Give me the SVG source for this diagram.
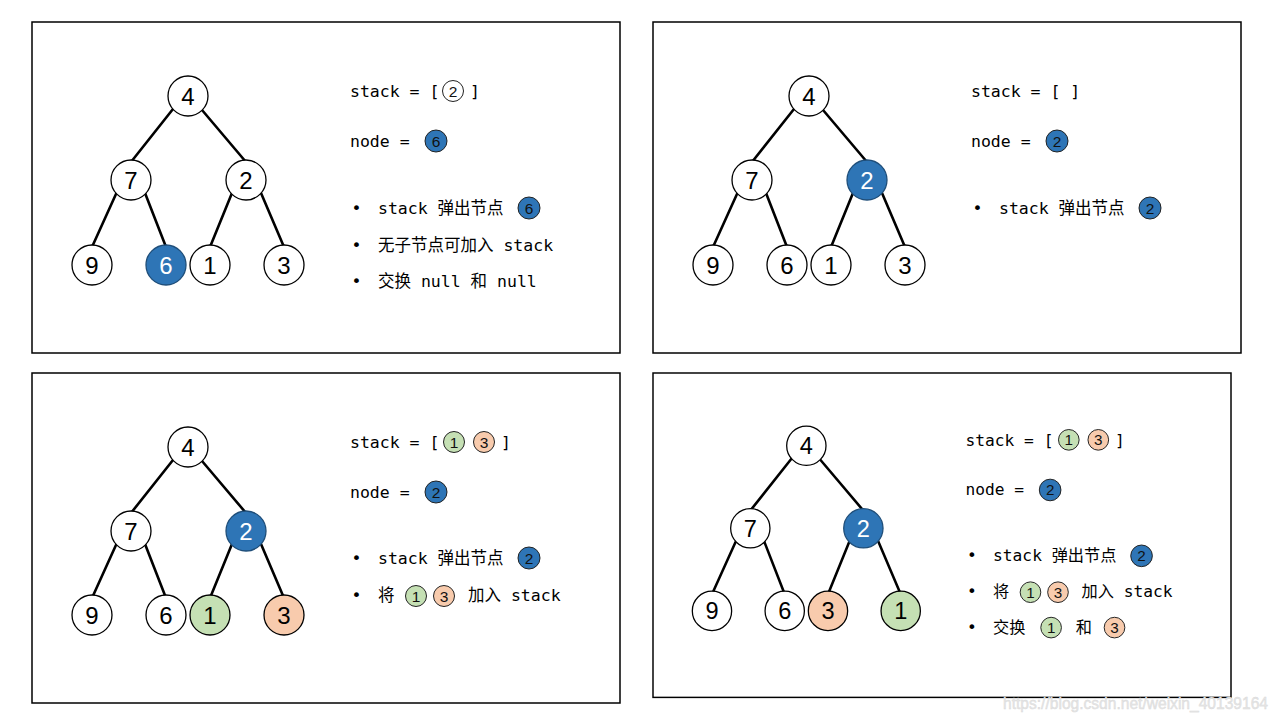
<svg xmlns="http://www.w3.org/2000/svg" width="1280" height="720" viewBox="0 0 1280 720">
<style>
.bg{fill:#ffffff}
.frame{fill:#ffffff;stroke:#000;stroke-width:1.5}
.edge{stroke:#000;stroke-width:2.6;stroke-linecap:round;fill:none}
.tn{stroke:#000;stroke-width:1.3}
.w{fill:#ffffff}
.b{fill:#2E75B6;stroke:#1F4E79}
.g{fill:#C5E0B4}
.o{fill:#F8CBAD}
.tt{font-family:"Liberation Sans","Noto Sans",sans-serif;font-size:24px;text-anchor:middle;fill:#000}
.tw{fill:#ffffff}
.sc{stroke:#222;stroke-width:1}
.sd{font-family:"Liberation Sans","Noto Sans",sans-serif;font-size:15.5px;text-anchor:middle;fill:#111}
.mono{font-family:"DejaVu Sans Mono","Noto Sans CJK SC",monospace;font-size:16.5px;fill:#000}
.bul{font-family:"DejaVu Sans Mono",monospace;font-size:16.5px;fill:#000;text-anchor:middle}
.wm{font-family:"Liberation Sans",Arial,sans-serif;font-size:16px;fill:#e6e6e6;stroke:#d8d8d8;stroke-width:0.4}
</style>
<rect class="bg" x="0" y="0" width="1280" height="720"/>

<!-- Panel 1 -->
<g id="panel1" transform="translate(32,22)">
  <rect class="frame" x="0" y="0" width="588" height="331"/>
  <g id="p1-edges">
    <line class="edge" x1="141" y1="87" x2="99" y2="140"/>
    <line class="edge" x1="170" y1="88" x2="214" y2="140"/>
    <line class="edge" x1="84" y1="172" x2="60" y2="225"/>
    <line class="edge" x1="113" y1="171" x2="134" y2="225"/>
    <line class="edge" x1="200" y1="171" x2="178" y2="225"/>
    <line class="edge" x1="229" y1="171" x2="252" y2="225"/>
  </g>
  <g id="p1-n4"><circle class="tn w" cx="156" cy="74" r="20"/><text class="tt" x="156" y="82.5">4</text></g>
  <g id="p1-n7"><circle class="tn w" cx="99" cy="158" r="20"/><text class="tt" x="99" y="166.5">7</text></g>
  <g id="p1-n2"><circle class="tn w" cx="214" cy="158" r="20"/><text class="tt" x="214" y="166.5">2</text></g>
  <g id="p1-n9"><circle class="tn w" cx="60" cy="243" r="20"/><text class="tt" x="60" y="251.5">9</text></g>
  <g id="p1-n6"><circle class="tn b" cx="134" cy="243" r="20"/><text class="tt tw" x="134" y="251.5">6</text></g>
  <g id="p1-n1"><circle class="tn w" cx="178" cy="243" r="20"/><text class="tt" x="178" y="251.5">1</text></g>
  <g id="p1-n3"><circle class="tn w" cx="252" cy="243" r="20"/><text class="tt" x="252" y="251.5">3</text></g>
  <g id="p1-text">
    <text class="mono" x="318" y="74.5">stack = [</text>
    <circle class="sc w" cx="421" cy="69" r="10.5"/><text class="sd" x="421" y="74.5">2</text>
    <text class="mono" x="438" y="74.5">]</text>
    <text class="mono" x="318" y="124.5">node =</text>
    <circle class="sc b" cx="404" cy="119" r="11"/><text class="sd tw" x="404" y="124.5">6</text>
    <text class="bul" x="324.5" y="192">•</text>
    <text class="mono" x="346" y="192">stack 弹出节点</text>
    <circle class="sc b" cx="497" cy="186" r="11"/><text class="sd tw" x="497" y="191.5">6</text>
    <text class="bul" x="324.5" y="229">•</text>
    <text class="mono" x="346" y="229">无子节点可加入 stack</text>
    <text class="bul" x="324.5" y="265">•</text>
    <text class="mono" x="346" y="265">交换 null 和 null</text>
  </g>
</g>

<!-- Panel 2 -->
<g id="panel2" transform="translate(653,22)">
  <rect class="frame" x="0" y="0" width="588" height="331"/>
  <g id="p2-edges">
    <line class="edge" x1="141" y1="87" x2="99" y2="140"/>
    <line class="edge" x1="170" y1="88" x2="214" y2="140"/>
    <line class="edge" x1="84" y1="172" x2="60" y2="225"/>
    <line class="edge" x1="113" y1="171" x2="134" y2="225"/>
    <line class="edge" x1="200" y1="171" x2="178" y2="225"/>
    <line class="edge" x1="229" y1="171" x2="252" y2="225"/>
  </g>
  <g id="p2-n4"><circle class="tn w" cx="156" cy="74" r="20"/><text class="tt" x="156" y="82.5">4</text></g>
  <g id="p2-n7"><circle class="tn w" cx="99" cy="158" r="20"/><text class="tt" x="99" y="166.5">7</text></g>
  <g id="p2-n2"><circle class="tn b" cx="214" cy="158" r="20"/><text class="tt tw" x="214" y="166.5">2</text></g>
  <g id="p2-n9"><circle class="tn w" cx="60" cy="243" r="20"/><text class="tt" x="60" y="251.5">9</text></g>
  <g id="p2-n6"><circle class="tn w" cx="134" cy="243" r="20"/><text class="tt" x="134" y="251.5">6</text></g>
  <g id="p2-n1"><circle class="tn w" cx="178" cy="243" r="20"/><text class="tt" x="178" y="251.5">1</text></g>
  <g id="p2-n3"><circle class="tn w" cx="252" cy="243" r="20"/><text class="tt" x="252" y="251.5">3</text></g>
  <g id="p2-text">
    <text class="mono" x="318" y="74.5">stack = [ ]</text>
    <text class="mono" x="318" y="124.5">node =</text>
    <circle class="sc b" cx="404" cy="119" r="11"/><text class="sd tw" x="404" y="124.5">2</text>
    <text class="bul" x="324.5" y="192">•</text>
    <text class="mono" x="346" y="192">stack 弹出节点</text>
    <circle class="sc b" cx="497" cy="186" r="11"/><text class="sd tw" x="497" y="191.5">2</text>
  </g>
</g>

<!-- Panel 3 -->
<g id="panel3" transform="translate(32,373)">
  <rect class="frame" x="0" y="0" width="588" height="330"/>
  <g id="p3-edges">
    <line class="edge" x1="141" y1="87" x2="99" y2="140"/>
    <line class="edge" x1="170" y1="88" x2="214" y2="140"/>
    <line class="edge" x1="84" y1="172" x2="60" y2="225"/>
    <line class="edge" x1="113" y1="171" x2="134" y2="225"/>
    <line class="edge" x1="200" y1="171" x2="178" y2="225"/>
    <line class="edge" x1="229" y1="171" x2="252" y2="225"/>
  </g>
  <g id="p3-n4"><circle class="tn w" cx="156" cy="74" r="20"/><text class="tt" x="156" y="82.5">4</text></g>
  <g id="p3-n7"><circle class="tn w" cx="99" cy="158" r="20"/><text class="tt" x="99" y="166.5">7</text></g>
  <g id="p3-n2"><circle class="tn b" cx="214" cy="158" r="20"/><text class="tt tw" x="214" y="166.5">2</text></g>
  <g id="p3-n9"><circle class="tn w" cx="60" cy="242" r="20"/><text class="tt" x="60" y="250.5">9</text></g>
  <g id="p3-n6"><circle class="tn w" cx="134" cy="242" r="20"/><text class="tt" x="134" y="250.5">6</text></g>
  <g id="p3-n1"><circle class="tn g" cx="178" cy="242" r="20"/><text class="tt" x="178" y="250.5">1</text></g>
  <g id="p3-n3"><circle class="tn o" cx="252" cy="242" r="20"/><text class="tt" x="252" y="250.5">3</text></g>
  <g id="p3-text">
    <text class="mono" x="318" y="74.5">stack = [</text>
    <circle class="sc g" cx="422" cy="69" r="10.5"/><text class="sd" x="422" y="74.5">1</text>
    <circle class="sc o" cx="452" cy="69" r="10.5"/><text class="sd" x="452" y="74.5">3</text>
    <text class="mono" x="469" y="74.5">]</text>
    <text class="mono" x="318" y="124.5">node =</text>
    <circle class="sc b" cx="404" cy="119" r="11"/><text class="sd tw" x="404" y="124.5">2</text>
    <text class="bul" x="324.5" y="191">•</text>
    <text class="mono" x="346" y="191">stack 弹出节点</text>
    <circle class="sc b" cx="497" cy="185" r="11"/><text class="sd tw" x="497" y="190.5">2</text>
    <text class="bul" x="324.5" y="228">•</text>
    <text class="mono" x="346" y="228">将</text>
    <circle class="sc g" cx="384" cy="223" r="10.5"/><text class="sd" x="384" y="228.5">1</text>
    <circle class="sc o" cx="412" cy="223" r="10.5"/><text class="sd" x="412" y="228.5">3</text>
    <text class="mono" x="436" y="228">加入 stack</text>
  </g>
</g>

<!-- Panel 4 -->
<g id="panel4" transform="translate(653,373) scale(0.983)">
  <rect class="frame" x="0" y="0" width="588" height="330"/>
  <g id="p4-edges">
    <line class="edge" x1="141" y1="87" x2="99" y2="140"/>
    <line class="edge" x1="170" y1="88" x2="214" y2="140"/>
    <line class="edge" x1="84" y1="172" x2="60" y2="225"/>
    <line class="edge" x1="113" y1="171" x2="134" y2="225"/>
    <line class="edge" x1="200" y1="171" x2="178" y2="225"/>
    <line class="edge" x1="229" y1="171" x2="252" y2="225"/>
  </g>
  <g id="p4-n4"><circle class="tn w" cx="156" cy="74" r="20"/><text class="tt" x="156" y="82.5">4</text></g>
  <g id="p4-n7"><circle class="tn w" cx="99" cy="158" r="20"/><text class="tt" x="99" y="166.5">7</text></g>
  <g id="p4-n2"><circle class="tn b" cx="214" cy="158" r="20"/><text class="tt tw" x="214" y="166.5">2</text></g>
  <g id="p4-n9"><circle class="tn w" cx="60" cy="242" r="20"/><text class="tt" x="60" y="250.5">9</text></g>
  <g id="p4-n6"><circle class="tn w" cx="134" cy="242" r="20"/><text class="tt" x="134" y="250.5">6</text></g>
  <g id="p4-n3"><circle class="tn o" cx="178" cy="242" r="20"/><text class="tt" x="178" y="250.5">3</text></g>
  <g id="p4-n1"><circle class="tn g" cx="252" cy="242" r="20"/><text class="tt" x="252" y="250.5">1</text></g>
  <g id="p4-text">
    <text class="mono" x="318" y="74.5">stack = [</text>
    <circle class="sc g" cx="423" cy="68" r="10.5"/><text class="sd" x="423" y="73.5">1</text>
    <circle class="sc o" cx="453" cy="68" r="10.5"/><text class="sd" x="453" y="73.5">3</text>
    <text class="mono" x="470" y="74.5">]</text>
    <text class="mono" x="318" y="124.5">node =</text>
    <circle class="sc b" cx="404" cy="119" r="11"/><text class="sd tw" x="404" y="124.5">2</text>
    <text class="bul" x="324.5" y="191">•</text>
    <text class="mono" x="346" y="191">stack 弹出节点</text>
    <circle class="sc b" cx="497" cy="186" r="11"/><text class="sd tw" x="497" y="191.5">2</text>
    <text class="bul" x="324.5" y="228">•</text>
    <text class="mono" x="346" y="228">将</text>
    <circle class="sc g" cx="384" cy="223" r="10.5"/><text class="sd" x="384" y="228.5">1</text>
    <circle class="sc o" cx="412" cy="223" r="10.5"/><text class="sd" x="412" y="228.5">3</text>
    <text class="mono" x="436" y="228">加入 stack</text>
    <text class="bul" x="324.5" y="265">•</text>
    <text class="mono" x="346" y="265">交换</text>
    <circle class="sc g" cx="405" cy="259" r="10.5"/><text class="sd" x="405" y="264.5">1</text>
    <text class="mono" x="430" y="265">和</text>
    <circle class="sc o" cx="469.5" cy="259" r="10.5"/><text class="sd" x="469.5" y="264.5">3</text>
  </g>
</g>

<text class="wm" x="1003" y="709" textLength="265" lengthAdjust="spacingAndGlyphs">https://blog.csdn.net/weixin_40139164</text>
</svg>
